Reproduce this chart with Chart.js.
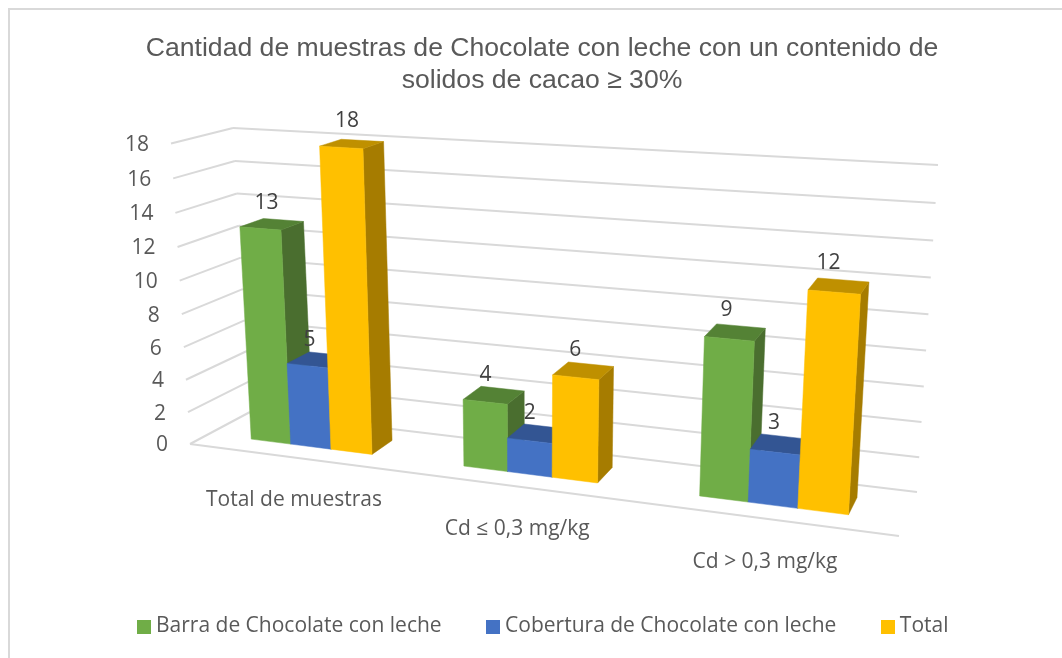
<!DOCTYPE html>
<html>
<head>
<meta charset="utf-8">
<title>Chocolate con leche</title>
<script src="https://cdn.jsdelivr.net/npm/chart.js@4/dist/chart.umd.min.js"></script>
<style>
    html, body { margin: 0; padding: 0; background: #fff; }
    #wrap { position: relative; width: 1062px; height: 658px; overflow: hidden; }
    #frame { position: absolute; left: 8px; top: 8px; width: 1200px; height: 800px; border: 2px solid #D9D9D9; box-sizing: border-box; }
    canvas { position: absolute; left: 0; top: 0; }
</style>
</head>
<body>
<div id="wrap">
    <div id="frame"></div>
    <canvas id="chart" width="1062" height="658"></canvas>
</div>
<script>
const categories = ['Total de muestras', 'Cd ≤ 0,3 mg/kg', 'Cd > 0,3 mg/kg'];
const barraValues = [13, 4, 9];
const coberturaValues = [5, 2, 3];
const totalValues = [18, 6, 12];
const seriesNames = ['Barra de Chocolate con leche', 'Cobertura de Chocolate con leche', 'Total'];
const titleLines = ['Cantidad de muestras de Chocolate con leche con un contenido de', 'solidos de cacao ≥ 30%'];

const frontColors = ['#70AD47', '#4472C4', '#FFC000'];
const topColors = ['#548235', '#335593', '#BF9000'];
const sideColors = ['#4A6E2F', '#2D4C83', '#A67C00'];
const gridColor = '#D9D9D9';
const textColor = '#595959';
const labelFont = '"Open Sans", sans-serif';

// corners of the 3D box as seen on the page (f = front, b = back, l/r, 0 = floor, 1 = top)
const box = {
    fl0: [190, 444], fl1: [171, 143.5], fr0: [899, 536], fr1: [921, 190],
    bl0: [250, 412], bl1: [233, 128], br0: [917, 492], br1: [938, 165]
};
const barFront = 0.32, barBack = 0.72;

function lerp(a, b, t) { return a + (b - a) * t; }

function project(u, v, w) {
    // perspective: things get bigger towards the right and the top
    const U = u / (u + 1.17 * (1 - u));
    const V = v / (v + 1.05 * (1 - v));
    return [0, 1].map(i => {
        const front = lerp(lerp(box.fl0[i], box.fr0[i], U), lerp(box.fl1[i], box.fr1[i], U), V);
        const back = lerp(lerp(box.bl0[i], box.br0[i], U), lerp(box.bl1[i], box.br1[i], U), V);
        return lerp(front, back, w);
    });
}

function quad(ctx, pts, color) {
    ctx.fillStyle = color;
    ctx.strokeStyle = color;
    ctx.lineWidth = 0.5;
    ctx.beginPath();
    pts.forEach((p, i) => i ? ctx.lineTo(p[0], p[1]) : ctx.moveTo(p[0], p[1]));
    ctx.closePath();
    ctx.fill();
    ctx.stroke();
}

function line(ctx, a, b) {
    ctx.beginPath();
    ctx.moveTo(a[0], a[1]);
    ctx.lineTo(b[0], b[1]);
    ctx.stroke();
}

function swatch(color) {
    const c = document.createElement('canvas');
    c.width = 14;
    c.height = 14;
    const g = c.getContext('2d');
    g.fillStyle = color;
    g.fillRect(0, 0, 14, 14);
    return c;
}

const box3d = {
    id: 'box3d',
    afterLayout(chart) {
        // legend sits a little right of the title's centre
        chart.legend.left += 3.5;
        chart.legend.right += 3.5;
    },
    beforeDatasetsDraw(chart) {
        const { ctx, chartArea: area, scales: { y } } = chart;
        ctx.save();
        ctx.strokeStyle = gridColor;
        ctx.lineWidth = 2;
        y.ticks.forEach((tick, i) => {
            const v = (area.bottom - y.getPixelForTick(i)) / area.height;
            const corner = project(0, v, 1);
            line(ctx, project(0, v, 0), corner);
            line(ctx, corner, project(1, v, 1));
        });
        line(ctx, project(0, 0, 0), project(1, 0, 0));
        ctx.textAlign = 'right';
        ctx.textBaseline = 'middle';
        ctx.fillStyle = textColor;
        ctx.font = '21px ' + labelFont;
        y.ticks.forEach((tick, i) => {
            const v = (area.bottom - y.getPixelForTick(i)) / area.height;
            const p = project(0, v, 0);
            ctx.fillText(tick.label, p[0] - 22, p[1] + 1.5);
        });
        ctx.textAlign = 'center';
        chart.scales.x.ticks.forEach((tick, i) => {
            const u = (chart.scales.x.getPixelForTick(i) - area.left) / area.width;
            const p = project(u, 0, 0);
            ctx.fillText(tick.label, p[0] + 0.5, p[1] + 43);
        });
        ctx.restore();
    },
    beforeDatasetDraw() {
        return false;
    },
    afterDatasetsDraw(chart) {
        const { ctx, chartArea: area } = chart;
        const tops = [];
        ctx.save();
        chart.data.datasets.forEach((ds, s) => {
            chart.getDatasetMeta(s).data.forEach((bar, c) => {
                const u0 = (bar.x - bar.width / 2 - area.left) / area.width;
                const u1 = (bar.x + bar.width / 2 - area.left) / area.width;
                const v = (area.bottom - bar.y) / area.height;
                const f = barFront, b = barBack;
                quad(ctx, [project(u1, 0, f), project(u1, 0, b), project(u1, v, b), project(u1, v, f)], sideColors[s]);
                quad(ctx, [project(u0, v, f), project(u1, v, f), project(u1, v, b), project(u0, v, b)], topColors[s]);
                quad(ctx, [project(u0, 0, f), project(u1, 0, f), project(u1, v, f), project(u0, v, f)], frontColors[s]);
                // value labels sit over the front of the bar, just above its back edge
                const um = (u0 + u1) / 2;
                const value = ds.data[c];
                tops.push({
                    x: project(um, v, f)[0] + (0.5 - um) * value * 1.2,
                    y: project(um, v, b)[1] - (12.5 + value * 0.36),
                    text: String(value)
                });
            });
        });
        ctx.textAlign = 'center';
        ctx.textBaseline = 'middle';
        ctx.fillStyle = '#404040';
        ctx.font = '21px ' + labelFont;
        tops.forEach(t => ctx.fillText(t.text, t.x, t.y));
        ctx.restore();
    }
};

new Chart(document.getElementById('chart'), {
    type: 'bar',
    plugins: [box3d],
    data: {
        labels: categories,
        datasets: [
            { label: seriesNames[0], data: barraValues, backgroundColor: frontColors[0] },
            { label: seriesNames[1], data: coberturaValues, backgroundColor: frontColors[1] },
            { label: seriesNames[2], data: totalValues, backgroundColor: frontColors[2] }
        ]
    },
    options: {
        responsive: false,
        animation: false,
        events: [],
        layout: { padding: { left: 22, right: 0, top: 27, bottom: 11 } },
        datasets: { bar: { categoryPercentage: 0.58, barPercentage: 1 } },
        scales: {
            x: { grid: { display: false }, border: { display: false }, ticks: { display: false } },
            y: {
                min: 0, max: 18,
                grid: { display: false }, border: { display: false },
                ticks: { display: false, stepSize: 2 }
            }
        },
        plugins: {
            tooltip: { enabled: false },
            title: {
                display: true,
                text: titleLines,
                color: textColor,
                font: { family: '"Liberation Sans", Arial, sans-serif', size: 26.6, weight: 'normal', lineHeight: 1.2 },
                padding: { top: 6, bottom: 10 }
            },
            legend: {
                position: 'bottom',
                labels: {
                    color: textColor,
                    font: { family: labelFont, size: 21 },
                    usePointStyle: true,
                    pointStyleWidth: 3,
                    padding: 50,
                    generateLabels: chart => chart.data.datasets.map((ds, i) => ({
                        text: ds.label,
                        fillStyle: frontColors[i],
                        fontColor: textColor,
                        pointStyle: swatch(frontColors[i]),
                        datasetIndex: i
                    }))
                }
            }
        }
    }
});
</script>
</body>
</html>
